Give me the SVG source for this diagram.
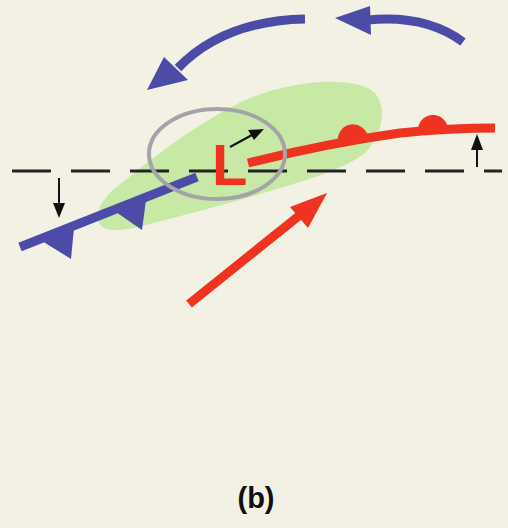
<svg xmlns="http://www.w3.org/2000/svg" width="508" height="528" viewBox="0 0 508 528">
  <style>
    .blue { fill: #4c4ca8; }
    .blue-line { fill: none; stroke: #4c4ca8; stroke-width: 9; }
    .red { fill: #ee3420; }
    .red-line { fill: none; stroke: #ee3420; stroke-width: 9; }
    .thin { fill: none; stroke: #111; stroke-width: 2; }
    .head { fill: #111; }
    .label { font-family: "Liberation Sans", Arial, sans-serif; font-weight: bold; }
  </style>
  <rect width="508" height="528" fill="#f2f1e3"/>

  <!-- precipitation area -->
  <g id="precip">
    <path d="M104,228 C92,222 98,200 118,186 C150,160 200,120 250,98 C290,82 340,76 368,88 C388,98 386,130 366,152 C345,170 300,182 260,194 C220,206 180,216 150,224 C128,230 112,232 104,228 Z" fill="#c8e8a6"/>
  </g>

  <!-- reference latitude -->
  <g id="baseline">
    <line x1="12" y1="171" x2="502" y2="171" stroke="#222" stroke-width="3" stroke-dasharray="39 20"/>
  </g>

  <!-- cold front -->
  <g id="cold-front">
    <path class="blue-line" d="M20,247 L197,177"/>
    <polygon class="blue" points="42,241 74,228 71,259"/>
    <polygon class="blue" points="116,212 146,200 142,230"/>
  </g>

  <!-- warm front -->
  <g id="warm-front">
    <path class="red-line" d="M248,163 C300,150 350,140 400,133 C440,129 470,128 495,128"/>
    <path class="red" d="M338,142 A15,15 0 0 1 368,137 Z"/>
    <path class="red" d="M418,131 A15,15 0 0 1 448,129 Z"/>
  </g>

  <!-- low centre -->
  <g id="low">
    <ellipse cx="217" cy="154" rx="68" ry="45" fill="none" stroke="#a4a4a8" stroke-width="4"/>
    <text class="label" x="212" y="185" font-size="58" fill="#ee3420">L</text>
  </g>

  <!-- flows and motion arrows -->
  <g id="connectors">
    <!-- upper-level flow -->
    <path class="blue-line" d="M305,19 C255,20 210,35 178,68" stroke-width="10"/>
    <polygon class="blue" points="147,90 164,57 188,80"/>
    <path class="blue-line" d="M463,42 C440,25 410,16 368,20" stroke-width="10"/>
    <polygon class="blue" points="335,18 370,6 371,35"/>
    <!-- warm inflow -->
    <path class="red-line" d="M189,304 L300,215" stroke-width="10"/>
    <polygon class="red" points="327,193 290,207 308,228"/>
    <!-- storm motion -->
    <path class="thin" d="M230,147 L252,135"/>
    <polygon class="head" points="264,129 248,130 254,140"/>
    <!-- front displacement -->
    <path class="thin" d="M59,178 L59,205"/>
    <polygon class="head" points="59,218 53,203 65,203"/>
    <path class="thin" d="M477,167 L477,148"/>
    <polygon class="head" points="477,134 471,150 483,150"/>
  </g>

  <text class="label" x="256" y="508" font-size="29" text-anchor="middle" fill="#111">(b)</text>
</svg>
